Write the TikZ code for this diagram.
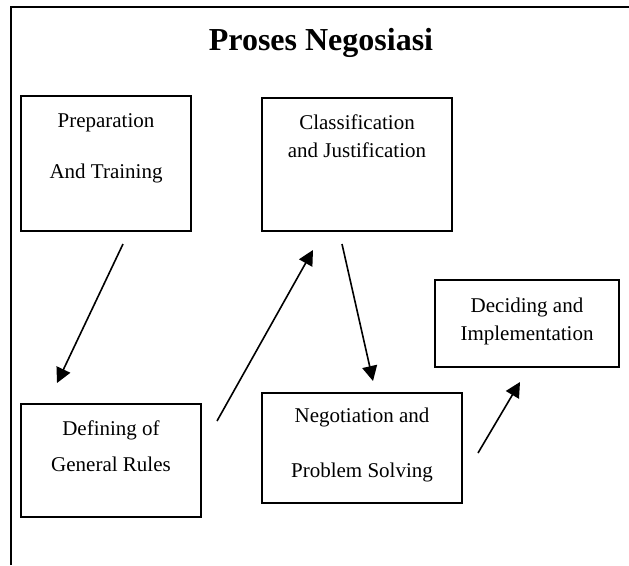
\documentclass[tikz,border=0pt]{standalone}
\usepackage{fontspec}
\setmainfont{Liberation Serif}
\usetikzlibrary{
  arrows.meta,
  calc,
  positioning,
}
\tikzstyle{arrow} = [
  -{Triangle[length=15pt, width=15pt]},
  line width=1.6pt,
]

\begin{document}
\begin{tikzpicture}[x=1pt, y=-1pt,
                    box/.style={draw, line width=2pt, inner sep=0pt},
                    txt/.style={anchor=north, align=center, inner sep=0pt,
                                font=\fontsize{21}{24}\selectfont}]
      \useasboundingbox (0,0) rectangle (629,565);
      \draw [line width=2pt] (11,565) -- (11,7) -- (629,7);

      \node [anchor=base, font=\fontsize{32}{36}\selectfont\bfseries] (title) at (321,50)
            {Proses Negosiasi};

      \node [box, minimum width=170pt, minimum height=135pt] (prep) at (106,163.5) {};
      \node [txt, below=18pt of prep.north] (prep-txt)
            {Preparation\\[27pt]And Training};

      \node [box, minimum width=190pt, minimum height=133pt] (classif) at (357,164.5) {};
      \node [txt, below=18pt of classif.north] (classif-txt)
            {Classification\\[4pt]and Justification};

      \node [box, minimum width=180pt, minimum height=113pt] (define) at (111,460.5) {};
      \node [txt, below=18pt of define.north] (define-txt)
            {Defining of\\[12pt]General Rules};

      \node [box, minimum width=200pt, minimum height=110pt] (negot) at (362,448) {};
      \node [txt, below=16pt of negot.north] (negot-txt)
            {Negotiation and\\[31pt]Problem Solving};

      \node [box, minimum width=184pt, minimum height=87pt] (decide) at (527,323.5) {};
      \node [txt, below=19pt of decide.north] (decide-txt)
            {Deciding and\\[4pt]Implementation};

      \coordinate (prep-out) at ([xshift=17pt, yshift=-12pt]prep.south);
      \coordinate (define-in) at ([xshift=-54pt, yshift=20pt]define.north);
      \coordinate (define-out) at ([xshift=15pt, yshift=-18pt]define.north east);
      \coordinate (classif-in) at ([xshift=-44pt, yshift=-18pt]classif.south);
      \coordinate (classif-out) at ([xshift=-15pt, yshift=-12pt]classif.south);
      \coordinate (negot-in) at ([xshift=11pt, yshift=11pt]negot.north);
      \coordinate (negot-out) at ([xshift=15pt, yshift=-5pt]negot.east);
      \coordinate (decide-in) at ([xshift=-7pt, yshift=-14pt]decide.south);

      \draw [arrow] (prep-out) -- (define-in);
      \draw [arrow] (define-out) -- (classif-in);
      \draw [arrow] (classif-out) -- (negot-in);
      \draw [arrow] (negot-out) -- (decide-in);
    \end{tikzpicture}
\end{document}
